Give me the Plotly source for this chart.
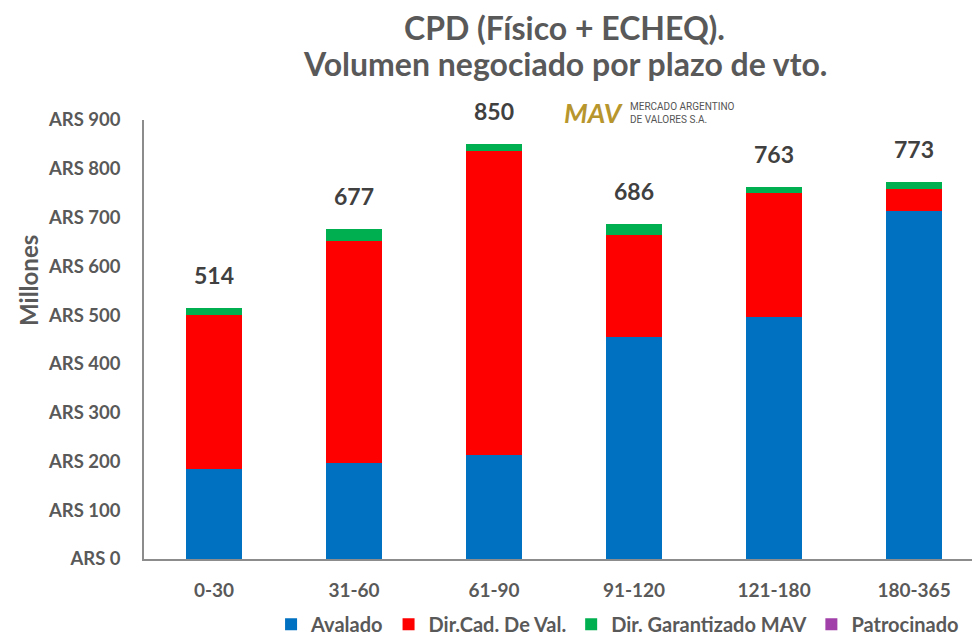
import plotly.graph_objects as go

categories = ["0-30", "31-60", "61-90", "91-120", "121-180", "180-365"]
avalado = [185, 196, 213, 455, 497, 713]
dircad = [315, 455, 623, 209, 254, 46]
garantizado = [14, 26, 14, 22, 12, 14]
patrocinado = [0, 0, 0, 0, 0, 0]
totals = [514, 677, 850, 686, 763, 773]
y_ticks = [0, 100, 200, 300, 400, 500, 600, 700, 800, 900]
title_lines = ["CPD (Físico + ECHEQ).", "Volumen negociado por plazo de vto."]

FONT = "Lato"
GRAY = "#595959"
DARK = "#404040"

fig = go.Figure()
series = [
    ("Avalado", avalado, "#0070C0"),
    ("Dir.Cad. De Val.", dircad, "#FF0000"),
    ("Dir. Garantizado MAV", garantizado, "#00B050"),
    ("Patrocinado", patrocinado, "#A040A8"),
]
for name, vals, col in series:
    fig.add_trace(go.Bar(
        x=categories, y=vals, name=f"<b>{name}</b>",
        marker=dict(color=col, line=dict(width=0)),
        width=0.4,
    ))

for c, t in zip(categories, totals):
    fig.add_annotation(x=c, y=t, text=f"<b>{t}</b>", showarrow=False,
                       yanchor="bottom", yshift=17,
                       font=dict(family=FONT, size=23, color=DARK))

# title (two lines)
for line, ypos in zip(title_lines, [1.2118, 1.1276]):
    fig.add_annotation(xref="paper", yref="paper", x=0.503, y=ypos,
                       xanchor="center", yanchor="middle", showarrow=False,
                       text=f"<b>{line}</b>",
                       font=dict(family=FONT, size=32, color=GRAY))

# y-axis title
fig.add_annotation(xref="paper", yref="paper", x=-0.1388, y=0.6355,
                   xanchor="center", yanchor="middle", showarrow=False, textangle=-90,
                   text="<b>Millones</b>", font=dict(family=FONT, size=24, color=GRAY))

# logo
fig.add_annotation(xref="paper", yref="paper", x=0.538, y=1.018, xanchor="center", yanchor="middle",
                   text="<b><i>MAV</i></b>", showarrow=False,
                   font=dict(family=FONT, size=27, color="#B8962E"))
fig.add_annotation(xref="paper", yref="paper", x=0.579, y=1.016, xanchor="left", yanchor="middle",
                   text="MERCADO ARGENTINO<br>DE VALORES S.A.", showarrow=False, align="left",
                   font=dict(family="Roboto", size=10, color="#555555"))

fig.update_layout(
    width=972, height=631,
    barmode="stack",
    plot_bgcolor="white", paper_bgcolor="white",
    margin=dict(l=136, r=0, t=112, b=80, autoexpand=False),
    font=dict(family=FONT, color=GRAY),
    legend=dict(orientation="h", x=0.152, y=-0.104, xanchor="left", yanchor="top",
                font=dict(family=FONT, size=20, color=GRAY),
                traceorder="normal", itemwidth=30),
    showlegend=True,
)
fig.update_yaxes(range=[0, 900], tickvals=y_ticks,
                 ticktext=[f"<b>ARS {v}</b>" for v in y_ticks],
                 showgrid=False, showline=True, linecolor="#8C8C8C", linewidth=1.5,
                 ticks="", ticklabelstandoff=18, zeroline=False,
                 tickfont=dict(family=FONT, size=18.5, color=GRAY))
fig.update_xaxes(showgrid=False, showline=True, linecolor="#8C8C8C", linewidth=1.5,
                 ticks="", ticklabelstandoff=13, range=[-0.5, 5.471],
                 tickvals=categories, ticktext=[f"<b>{c}</b>" for c in categories],
                 tickfont=dict(family=FONT, size=19, color=GRAY))

fig.write_html("out.html")
